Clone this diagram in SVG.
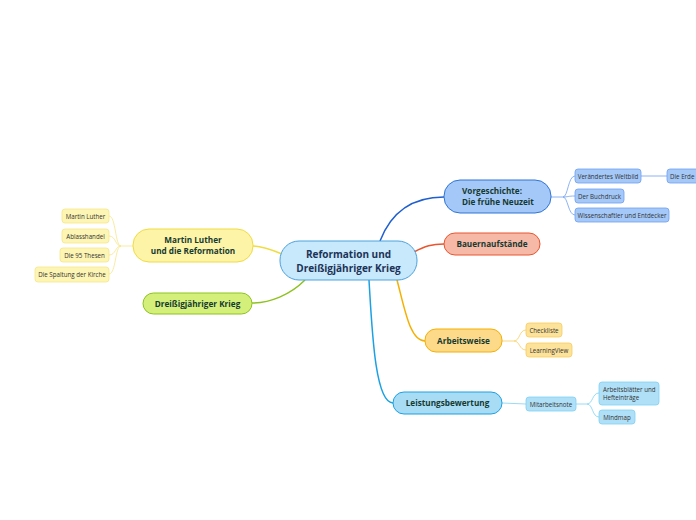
<svg xmlns="http://www.w3.org/2000/svg" width="696" height="520" viewBox="0 0 696 520">
<style>
text{font-family:"Open Sans","Noto Sans","Liberation Sans",sans-serif}
.m{font-weight:bold;font-size:8.2px;fill:#163a30;text-anchor:middle}
.c{font-size:6.2px;fill:#333;text-anchor:middle}
.ln{fill:none}
</style>
<rect width="696" height="520" fill="#fff"/>
<g id="connectors" class="ln">
<path d="M380,241 C390,215 410,197 444,197" stroke="#1f5fd0" stroke-width="1.5"/>
<path d="M414,252 C425,246 432,244 444,244" stroke="#e8552e" stroke-width="1.5"/>
<path d="M397,280 C405,310 410,341 425,341" stroke="#f5b000" stroke-width="1.5"/>
<path d="M369,280 C372,330 375,403 393,403" stroke="#1ba1e2" stroke-width="1.5"/>
<path d="M282,254 C270,249 262,246 253,246" stroke="#f0dc40" stroke-width="1.5"/>
<path d="M305,280 C290,295 270,303 252,303" stroke="#8dc21f" stroke-width="1.5"/>
<g stroke="#6fa0f0" stroke-width="0.8">
<path d="M551,197 L563,197 C568,197 568,176 575,176"/>
<path d="M563,197 C568,197 568,196 575,196"/>
<path d="M563,197 C568,197 568,215 575,215"/>
<path d="M641,176 L667,176"/>
</g>
<g stroke="#f5e68a" stroke-width="0.8">
<path d="M133,246 L121,246 C115,246 116,216 109,216"/>
<path d="M121,246 C115,246 116,236 109,236"/>
<path d="M121,246 C115,246 116,255 109,255"/>
<path d="M121,246 C115,246 116,274 109,274"/>
</g>
<g stroke="#f8cd60" stroke-width="0.8">
<path d="M502,341 L514,341 C520,341 519,330 526,330"/>
<path d="M514,341 C520,341 519,350 526,350"/>
</g>
<g stroke="#7fd0f2" stroke-width="0.8">
<path d="M502,403 L526,404"/>
<path d="M576,404 L587,404 C593,404 592,393 599,393"/>
<path d="M587,404 C593,404 592,417 599,417"/>
</g>
</g>
<g id="central">
<rect x="280" y="241" width="137" height="39" rx="19" fill="#c8e8fb" stroke="#4aa3df" stroke-width="1"/>
<text x="348.5" y="258" style="font-weight:bold;font-size:10px;fill:#1c3357;text-anchor:middle">Reformation und</text>
<text x="348.5" y="272" style="font-weight:bold;font-size:10px;fill:#1c3357;text-anchor:middle">Dreißigjähriger Krieg</text>
</g>
<g id="vorgeschichte">
<rect x="444" y="180" width="107" height="33" rx="16" fill="#a4c8f8" stroke="#2f75d6" stroke-width="1"/>
<text x="462" y="194" class="m" style="text-anchor:start">Vorgeschichte:</text>
<text x="462" y="205" class="m" style="text-anchor:start">Die frühe Neuzeit</text>
</g>
<g id="weltbild"><rect x="575" y="169" width="66" height="14" rx="3" fill="#a4c8f8" stroke="#6fa0f0" stroke-width="0.8"/><text x="608" y="178.5" class="c">Verändertes Weltbild</text></g>
<g id="erde"><rect x="667" y="169" width="34" height="14" rx="3" fill="#a4c8f8" stroke="#6fa0f0" stroke-width="0.8"/><text x="670" y="178.5" class="c" style="text-anchor:start">Die Erde</text></g>
<g id="buchdruck"><rect x="575" y="189" width="49" height="14" rx="3" fill="#a4c8f8" stroke="#6fa0f0" stroke-width="0.8"/><text x="599.5" y="198.5" class="c">Der Buchdruck</text></g>
<g id="wissenschaftler"><rect x="575" y="208" width="94" height="14" rx="3" fill="#a4c8f8" stroke="#6fa0f0" stroke-width="0.8"/><text x="622" y="217.5" class="c">Wissenschaftler und Entdecker</text></g>
<g id="bauern">
<rect x="444" y="233" width="96" height="22" rx="11" fill="#f6b9a8" stroke="#e8552e" stroke-width="1"/>
<text x="492" y="247" class="m">Bauernaufstände</text>
</g>
<g id="arbeitsweise">
<rect x="425" y="329" width="77" height="23" rx="11" fill="#fdd98a" stroke="#f5b000" stroke-width="1"/>
<text x="463.5" y="344" class="m">Arbeitsweise</text>
</g>
<g id="checkliste"><rect x="526" y="323" width="36" height="14" rx="3" fill="#fde29a" stroke="#f8cd60" stroke-width="0.8"/><text x="544" y="332.5" class="c">Checkliste</text></g>
<g id="learningview"><rect x="526" y="343" width="46" height="14" rx="3" fill="#fde29a" stroke="#f8cd60" stroke-width="0.8"/><text x="549" y="352.5" class="c">LearningView</text></g>
<g id="leistung">
<rect x="393" y="392" width="109" height="22" rx="11" fill="#a8dcf5" stroke="#1ba1e2" stroke-width="1"/>
<text x="447.5" y="406" class="m">Leistungsbewertung</text>
</g>
<g id="mitarbeit"><rect x="526" y="397" width="50" height="14" rx="3" fill="#b0e0f7" stroke="#7fd0f2" stroke-width="0.8"/><text x="551" y="406.5" class="c">Mitarbeitsnote</text></g>
<g id="arbeitsblaetter"><rect x="599" y="382" width="60" height="23" rx="3" fill="#b0e0f7" stroke="#7fd0f2" stroke-width="0.8"/><text x="603" y="391.5" class="c" style="text-anchor:start">Arbeitsblätter und</text><text x="603" y="400" class="c" style="text-anchor:start">Hefteinträge</text></g>
<g id="mindmap"><rect x="599" y="410" width="36" height="14" rx="3" fill="#b0e0f7" stroke="#7fd0f2" stroke-width="0.8"/><text x="617" y="419.5" class="c">Mindmap</text></g>
<g id="luther">
<rect x="133" y="229" width="120" height="33" rx="16" fill="#fdf4a8" stroke="#f0dc40" stroke-width="1"/>
<text x="193" y="243" class="m">Martin Luther</text>
<text x="193" y="254" class="m">und die Reformation</text>
</g>
<g id="martinluther"><rect x="62" y="209" width="47" height="14" rx="3" fill="#fdf5b4" stroke="#f5e68a" stroke-width="0.8"/><text x="85.5" y="218.5" class="c">Martin Luther</text></g>
<g id="ablass"><rect x="62" y="229" width="47" height="14" rx="3" fill="#fdf5b4" stroke="#f5e68a" stroke-width="0.8"/><text x="85.5" y="238.5" class="c">Ablasshandel</text></g>
<g id="thesen"><rect x="60" y="248" width="49" height="14" rx="3" fill="#fdf5b4" stroke="#f5e68a" stroke-width="0.8"/><text x="84.5" y="257.5" class="c">Die 95 Thesen</text></g>
<g id="spaltung"><rect x="35" y="267" width="74" height="15" rx="3" fill="#fdf5b4" stroke="#f5e68a" stroke-width="0.8"/><text x="72" y="276.8" class="c">Die Spaltung der Kirche</text></g>
<g id="krieg">
<rect x="143" y="293" width="109" height="21" rx="10.5" fill="#d4f07a" stroke="#8dc21f" stroke-width="1"/>
<text x="197.5" y="306.5" class="m">Dreißigjähriger Krieg</text>
</g>
</svg>
